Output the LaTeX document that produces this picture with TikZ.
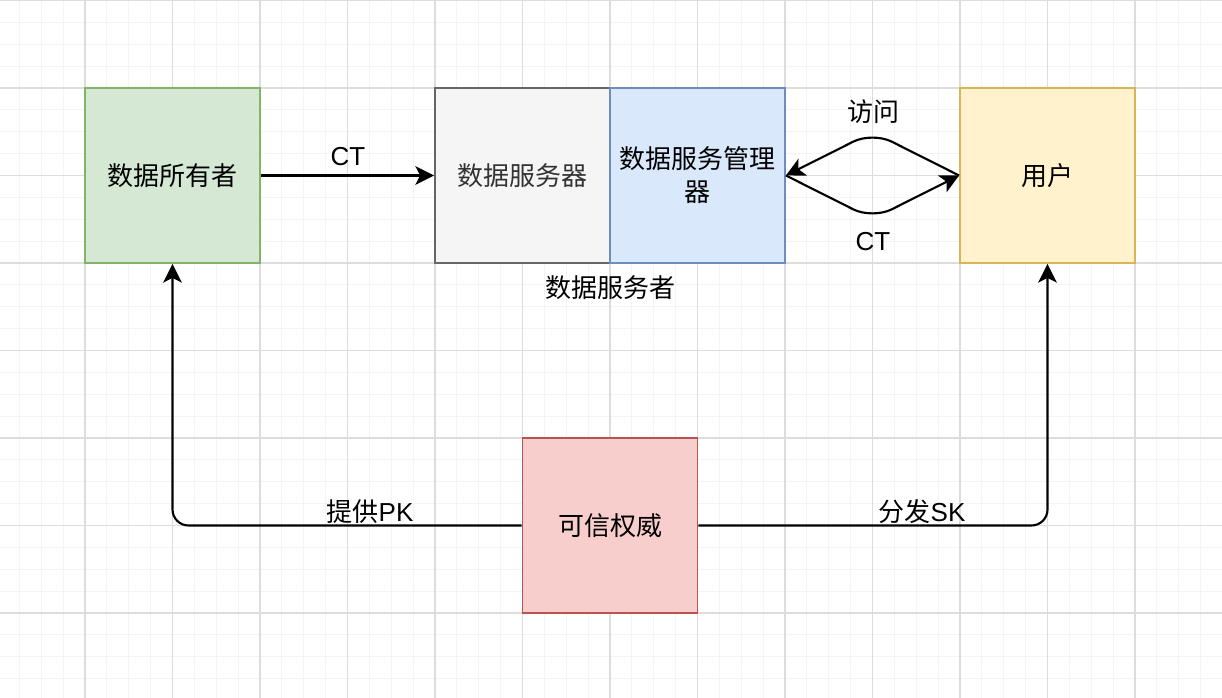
\documentclass[tikz,border=0pt]{standalone}
\usepackage{fontspec}
\setmainfont{Liberation Sans}
\newfontfamily\cjk{Noto Sans CJK SC}
\usetikzlibrary{arrows.meta}
\definecolor{gmaj}{HTML}{DDDDDD}
\definecolor{gmin}{HTML}{F4F4F4}
\definecolor{grfill}{HTML}{D5E8D4}\definecolor{grline}{HTML}{82B366}
\definecolor{gyfill}{HTML}{F5F5F5}\definecolor{gyline}{HTML}{666666}\definecolor{gytext}{HTML}{333333}
\definecolor{blfill}{HTML}{DAE8FC}\definecolor{blline}{HTML}{6C8EBF}
\definecolor{yefill}{HTML}{FFF2CC}\definecolor{yeline}{HTML}{D6B656}
\definecolor{rdfill}{HTML}{F8CECC}\definecolor{rdline}{HTML}{B85450}
\tikzset{
  box/.style={draw, line width=1.4pt, minimum width=131.25pt, minimum height=131.25pt, inner sep=0pt,
    font=\fontsize{19.5}{24.75}\selectfont\cjk, align=center},
  lbl/.style={font=\fontsize{19.5}{24}\selectfont, inner sep=0pt},
  conn/.style={line width=1.6pt, -{Stealth[length=14pt,width=14pt,inset=3.5pt]}},
}
\begin{document}
\begin{tikzpicture}[x=0.75pt,y=-0.75pt]
\useasboundingbox (0,0) rectangle (1222,698);
\fill[white] (0,0) rectangle (1222,698);
% grid
\foreach \k in {0,...,55} {
  \draw[gmin, line width=0.75pt] ({19.375+21.875*\k},0) -- ({19.375+21.875*\k},698);
}
\foreach \k in {0,...,31} {
  \draw[gmin, line width=0.75pt] (0,{0.5+21.875*\k}) -- (1222,{0.5+21.875*\k});
}
\foreach \k in {0,...,14} {
  \draw[gmaj, line width=0.9pt] ({-2.5+87.5*\k},0) -- ({-2.5+87.5*\k},698);
}
\foreach \k in {0,...,7} {
  \draw[gmaj, line width=0.9pt] (0,{0.5+87.5*\k}) -- (1222,{0.5+87.5*\k});
}
% boxes
\node[box, fill=grfill, draw=grline] (owner) at (172.5,175.5) {数据所有者};
\node[box, fill=gyfill, draw=gyline, text=gytext] (server) at (522.5,175.5) {\raisebox{-3pt}{数据服务器}};
\node[box, fill=blfill, draw=blline] (mgr) at (697.5,175.5) {数据服务管理\\器};
\node[box, fill=yefill, draw=yeline] (user) at (1047.5,175.5) {用户};
\node[box, fill=rdfill, draw=rdline] (ta) at (610,525.5) {可信权威};
% labels
\node[lbl] (lct1) at (348,157) {CT};
\node[lbl] (lacc) at (873,112) {\cjk 访问};
\node[lbl] (lct2) at (873,242) {CT};
\node[lbl] (lds) at (610,288) {\cjk 数据服务者};
\node[lbl] (lpk) at (370,512) {{\cjk 提供}PK};
\node[lbl] (lsk) at (922,512) {{\cjk 分发}SK};
% connectors
\draw[conn] (owner.east) -- (server.west);
\coordinate (wtop) at (872.5,132);
\coordinate (wbot) at (872.5,219);
\draw[conn, rounded corners=16pt] (user.west) -- (wtop) -- (mgr.east);
\draw[conn, rounded corners=16pt] (mgr.east) -- (wbot) -- (user.west);
\draw[conn, rounded corners=12pt] (ta.west) -| (owner.south);
\draw[conn, rounded corners=12pt] (ta.east) -| (user.south);
\end{tikzpicture}
\end{document}
